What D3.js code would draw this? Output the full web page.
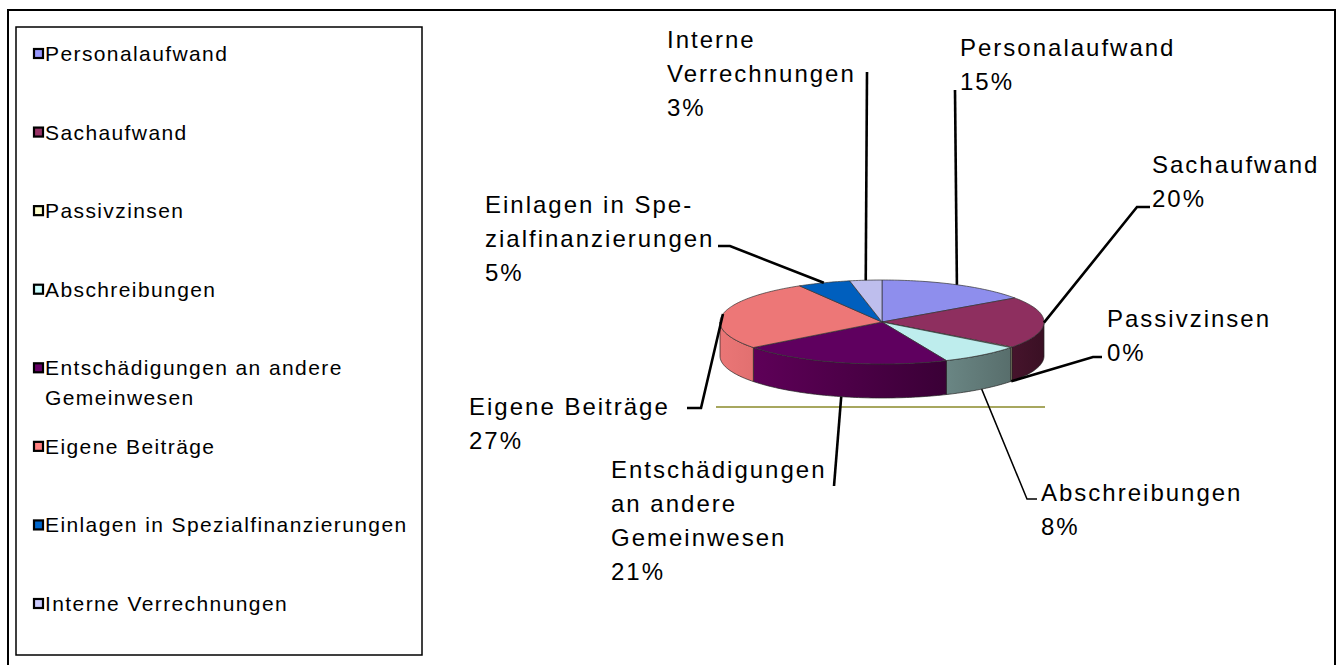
<!DOCTYPE html>
<html><head><meta charset="utf-8">
<script src="https://cdn.jsdelivr.net/npm/d3@7"></script>
<style>
html,body{margin:0;padding:0;background:#fff;}
svg{display:block;font-family:"Liberation Sans",Arial,sans-serif;}
</style></head>
<body>
<svg id="chart" width="1342" height="665"></svg>
<script>
// ---- data ----
const categories = ["Personalaufwand","Sachaufwand","Passivzinsen","Abschreibungen","Entschädigungen an andere Gemeinwesen","Eigene Beiträge","Einlagen in Spezialfinanzierungen","Interne Verrechnungen"];
const values = [15.3, 19.9, 0.2, 8.1, 21.1, 26.9, 5.3, 3.2];
const legendLines = [["Personalaufwand"],["Sachaufwand"],["Passivzinsen"],["Abschreibungen"],["Entschädigungen an andere","Gemeinwesen"],["Eigene Beiträge"],["Einlagen in Spezialfinanzierungen"],["Interne Verrechnungen"]];
const labelLines = [["Personalaufwand"],["Sachaufwand"],["Passivzinsen"],["Abschreibungen"],["Entschädigungen","an andere","Gemeinwesen"],["Eigene Beiträge"],["Einlagen in Spe-","zialfinanzierungen"],["Interne","Verrechnungen"]];

// ---- style / layout ----
const baseColors = ["#9999ff","#993366","#ffffcc","#ccffff","#660066","#ff8080","#0066cc","#ccccff"];
const sideColors = [["#7a7acc","#6a6ab8"],["#46142c","#3a1024"],["#cccc99","#b0b080"],["#6a8684","#586e6c"],["#5e0058","#3a0036"],["#ea7676","#e27070"],["#004a99","#003d80"],["#9a9acc","#8888bb"]];
const labelLayout = [
  {x:960, y:56,  pts:[[955,90]]},
  {x:1152,y:173, pts:[[1137,207],[1150,207]]},
  {x:1107,y:327, pts:[[1093,357],[1102,357]]},
  {x:1041,y:501, pts:[[1027,499],[1037,499]], w:1.5},
  {x:611, y:478, pts:[[834,486]]},
  {x:469, y:415, pts:[[701,408],[687,408]]},
  {x:485, y:213, pts:[[730,246],[718,246]]},
  {x:667, y:48,  pts:[[867,72]]}
];
const cx = 882, cy = 322, rx = 162, ry = 42, depth = 34;

const svg = d3.select("#chart");
const defs = svg.append("defs");

// outer frame
svg.append("rect").attr("x",8).attr("y",10).attr("width",1327).attr("height",700)
  .attr("fill","none").attr("stroke","#000").attr("stroke-width",2);

// legend
const legendG = svg.append("g");
legendG.append("rect").attr("x",16).attr("y",27).attr("width",406).attr("height",628)
  .attr("fill","#fff").attr("stroke","#000").attr("stroke-width",1.5);
const rowY = d3.scaleLinear().domain([0,7]).range([54,604]);
categories.forEach((c,i)=>{
  const y = rowY(i);
  legendG.append("rect").attr("x",34).attr("y",y-5).attr("width",9).attr("height",9)
    .attr("fill",baseColors[i]).attr("stroke","#000").attr("stroke-width",2.2);
  const t = legendG.append("text").attr("font-size",21).attr("letter-spacing",1.4).attr("fill","#000");
  legendLines[i].forEach((ln,j)=>{
    t.append("tspan").attr("x",45).attr("y",y+7+j*30).text(ln);
  });
});

// pie
const pie = d3.pie().sort(null).value(d=>d).startAngle(0).endAngle(2*Math.PI);
const arcs = pie(values);
const pt = (a,dy=0)=>[cx + rx*Math.sin(a), cy - ry*Math.cos(a) + dy];
const samples = (a0,a1)=>{ const n=Math.max(2,Math.ceil((a1-a0)/0.02)); return d3.range(n+1).map(k=>a0+(a1-a0)*k/n); };
const line = d3.line();

// olive base line
svg.append("line").attr("x1",716).attr("x2",1045).attr("y1",407).attr("y2",407)
  .attr("stroke","#8a8a2a").attr("stroke-width",1.5);

// sides
arcs.forEach((d,i)=>{
  const s0 = Math.max(d.startAngle, Math.PI/2), s1 = Math.min(d.endAngle, 3*Math.PI/2);
  if (s1 <= s0) return;
  const top = samples(s0,s1).map(a=>pt(a));
  const bot = samples(s0,s1).reverse().map(a=>pt(a,depth));
  const xs = top.map(p=>p[0]);
  const gid = "g"+i;
  const g = defs.append("linearGradient").attr("id",gid).attr("gradientUnits","userSpaceOnUse")
    .attr("x1",d3.min(xs)).attr("x2",d3.max(xs)).attr("y1",0).attr("y2",0);
  g.append("stop").attr("offset",0).attr("stop-color",sideColors[i][0]);
  g.append("stop").attr("offset",1).attr("stop-color",sideColors[i][1]);
  svg.append("path").attr("d",line(top.concat(bot))+"Z")
    .attr("fill",`url(#${gid})`).attr("stroke","#222").attr("stroke-width",0.7);
});
// tops
arcs.forEach((d,i)=>{
  const p = [[cx,cy]].concat(samples(d.startAngle,d.endAngle).map(a=>pt(a)));
  svg.append("path").attr("d",line(p)+"Z")
    .attr("fill",d3.color(baseColors[i]).darker(0.2)).attr("stroke","#333").attr("stroke-width",0.7);
});

// leader lines + labels
const total = d3.sum(values);
arcs.forEach((d,i)=>{
  const mid = (d.startAngle+d.endAngle)/2;
  const start = Math.cos(mid) < -0.1 ? pt(mid,depth) : pt(mid);
  const L = labelLayout[i];
  svg.append("path").attr("d",line([start].concat(L.pts)))
    .attr("fill","none").attr("stroke","#000").attr("stroke-width",L.w||2.6);
  const lines = labelLines[i].concat([Math.round(values[i]/total*100)+"%"]);
  const t = svg.append("text").attr("font-size",24).attr("letter-spacing",2).attr("fill","#000");
  lines.forEach((ln,j)=>{
    t.append("tspan").attr("x",L.x).attr("y",L.y+j*34).text(ln);
  });
});
</script>
</body></html>
